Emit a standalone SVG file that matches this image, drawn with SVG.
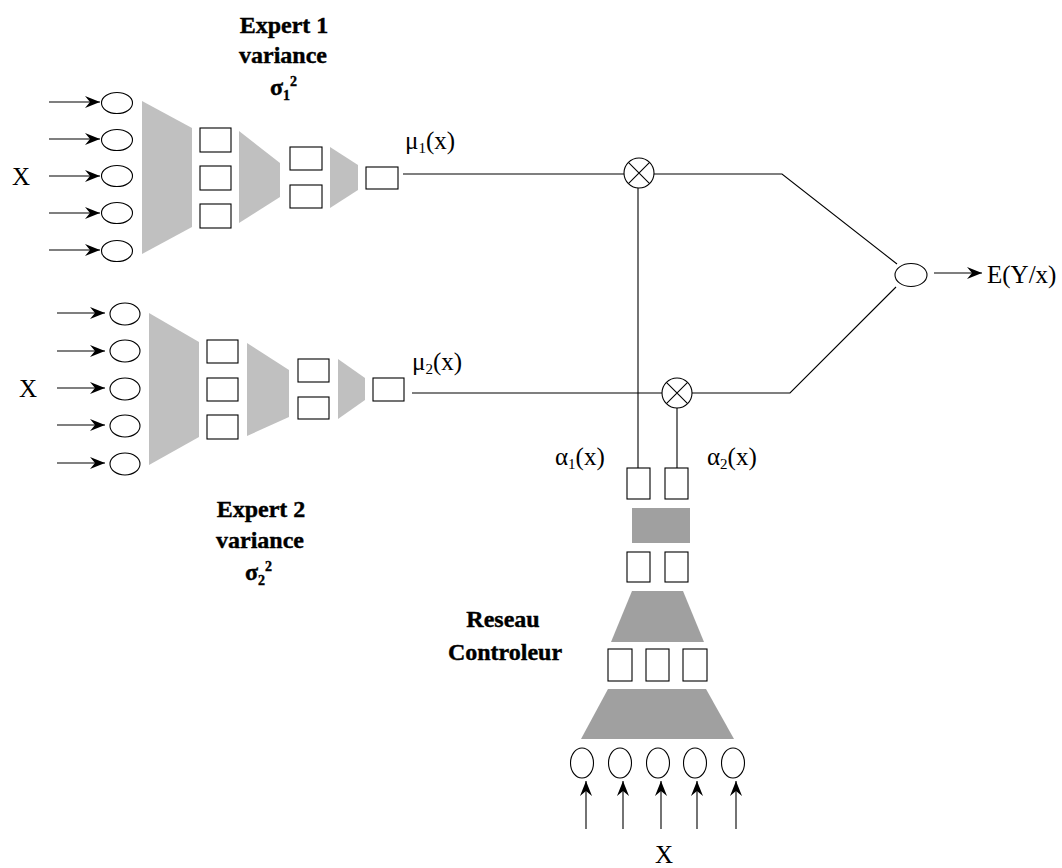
<svg xmlns="http://www.w3.org/2000/svg" width="1062" height="868" viewBox="0 0 1062 868">
<style>
.ln{stroke:#000;stroke-width:1.1;fill:none}
.ar{stroke:#000;stroke-width:1.1;fill:none;marker-end:url(#ah)}
.nd{stroke:#000;stroke-width:1.1;fill:#fff}
.g1{fill:#c0c0c0}
.g2{fill:#a0a0a0}
.t{font-family:"Liberation Serif","Times New Roman",serif;font-size:25px;fill:#000}
.b{font-family:"Liberation Serif","Times New Roman",serif;font-size:24px;font-weight:700;fill:#000;stroke:#000;stroke-width:0.4}
.s{font-size:15px}
</style>
<defs>
<marker id="ah" markerWidth="16" markerHeight="13" refX="15" refY="6" orient="auto" markerUnits="userSpaceOnUse">
<path d="M0,0 L15,6 L0,12 L5,6 Z" fill="#000"/>
</marker>
</defs>
<rect width="1062" height="868" fill="#fff"/>

<g id="expert1">
<text class="b" x="284" y="33" text-anchor="middle">Expert 1</text>
<text class="b" x="283" y="63" text-anchor="middle">variance</text>
<text class="b" x="270" y="95">σ<tspan font-size="14" dy="5">1</tspan><tspan font-size="14" dy="-14">2</tspan></text>
<text class="t" x="12" y="185">X</text>
<line class="ar" x1="49" y1="102" x2="100" y2="102"/>
<line class="ar" x1="49" y1="139" x2="100" y2="139"/>
<line class="ar" x1="49" y1="176" x2="100" y2="176"/>
<line class="ar" x1="49" y1="213" x2="100" y2="213"/>
<line class="ar" x1="49" y1="250" x2="100" y2="250"/>
<ellipse class="nd" cx="117" cy="103" rx="15.5" ry="10.5"/>
<ellipse class="nd" cx="117" cy="140" rx="15.5" ry="10.5"/>
<ellipse class="nd" cx="117" cy="176" rx="15.5" ry="10.5"/>
<ellipse class="nd" cx="117" cy="213" rx="15.5" ry="10.5"/>
<ellipse class="nd" cx="117" cy="251" rx="15.5" ry="10.5"/>
<polygon class="g1" points="142,101 192,128 192,227 142,254"/>
<rect class="nd" x="200" y="128" width="31" height="24"/>
<rect class="nd" x="200" y="166" width="31" height="24"/>
<rect class="nd" x="200" y="204" width="31" height="24"/>
<polygon class="g1" points="239,131 280,163 280,197 239,223"/>
<rect class="nd" x="290" y="147" width="32" height="23"/>
<rect class="nd" x="290" y="185" width="32" height="23"/>
<polygon class="g1" points="330,147 358,165 358,190 330,208"/>
<rect class="nd" x="366" y="167" width="32" height="22"/>
<text class="t" x="405" y="149">μ<tspan class="s" dy="4">1</tspan><tspan dy="-4">(x)</tspan></text>
</g>

<g id="expert2">
<text class="b" x="261" y="517" text-anchor="middle">Expert 2</text>
<text class="b" x="260" y="548" text-anchor="middle">variance</text>
<text class="b" x="245" y="580">σ<tspan font-size="14" dy="5">2</tspan><tspan font-size="14" dy="-14">2</tspan></text>
<text class="t" x="19" y="397">X</text>
<line class="ar" x1="57" y1="313" x2="105" y2="313"/>
<line class="ar" x1="57" y1="351" x2="105" y2="351"/>
<line class="ar" x1="57" y1="388" x2="105" y2="388"/>
<line class="ar" x1="57" y1="425" x2="105" y2="425"/>
<line class="ar" x1="57" y1="463" x2="105" y2="463"/>
<ellipse class="nd" cx="125" cy="314" rx="15" ry="11"/>
<ellipse class="nd" cx="125" cy="351" rx="15" ry="11"/>
<ellipse class="nd" cx="125" cy="389" rx="15" ry="11"/>
<ellipse class="nd" cx="125" cy="426" rx="15" ry="11"/>
<ellipse class="nd" cx="125" cy="464" rx="15" ry="11"/>
<polygon class="g1" points="149,313 199,342 199,437 149,465"/>
<rect class="nd" x="207" y="340" width="31" height="23"/>
<rect class="nd" x="207" y="378" width="31" height="23"/>
<rect class="nd" x="207" y="415" width="31" height="24"/>
<polygon class="g1" points="247,343 289,370 289,417 247,436"/>
<rect class="nd" x="298" y="359" width="31" height="23"/>
<rect class="nd" x="298" y="397" width="31" height="22"/>
<polygon class="g1" points="338,359 365,378 365,400 338,419"/>
<rect class="nd" x="373" y="378" width="31" height="23"/>
<text class="t" x="412" y="370">μ<tspan class="s" dy="4">2</tspan><tspan dy="-4">(x)</tspan></text>
</g>

<g id="controller">
<text class="b" x="503" y="627" text-anchor="middle">Reseau</text>
<text class="b" x="505" y="660" text-anchor="middle">Controleur</text>
<rect class="nd" x="627" y="468" width="23" height="31"/>
<rect class="nd" x="665" y="468" width="23" height="31"/>
<rect class="g2" x="632" y="508" width="58" height="35"/>
<rect class="nd" x="627" y="552" width="23" height="30"/>
<rect class="nd" x="665" y="552" width="23" height="30"/>
<polygon class="g2" points="632,591 683,591 704,642 611,642"/>
<rect class="nd" x="608" y="649" width="24" height="32"/>
<rect class="nd" x="646" y="649" width="23" height="32"/>
<rect class="nd" x="683" y="649" width="24" height="32"/>
<polygon class="g2" points="608,689 706,689 734,739 581,739"/>
<ellipse class="nd" cx="582" cy="763" rx="11.5" ry="15"/>
<ellipse class="nd" cx="620" cy="763" rx="11.5" ry="15"/>
<ellipse class="nd" cx="658" cy="763" rx="11.5" ry="15"/>
<ellipse class="nd" cx="695" cy="763" rx="11.5" ry="15"/>
<ellipse class="nd" cx="733" cy="763" rx="11.5" ry="15"/>
<line class="ar" x1="586" y1="829" x2="586" y2="781"/>
<line class="ar" x1="623" y1="829" x2="623" y2="781"/>
<line class="ar" x1="661" y1="829" x2="661" y2="781"/>
<line class="ar" x1="697" y1="829" x2="697" y2="781"/>
<line class="ar" x1="736" y1="829" x2="736" y2="781"/>
<text class="t" x="655" y="863">X</text>
<text class="t" x="555" y="465">α<tspan class="s" dy="4">1</tspan><tspan dy="-4">(x)</tspan></text>
<text class="t" x="707" y="465">α<tspan class="s" dy="4">2</tspan><tspan dy="-4">(x)</tspan></text>
</g>

<g id="connectors">
<polyline class="ln" points="403,174 624,174"/>
<polyline class="ln" points="654,174 782,174 897,264"/>
<polyline class="ln" points="412,393 662,393"/>
<polyline class="ln" points="692,393 790,393 896,287"/>
<line class="ln" x1="638" y1="188" x2="638" y2="468"/>
<line class="ln" x1="677" y1="408" x2="677" y2="468"/>
<line class="ar" x1="934" y1="273" x2="982" y2="273"/>
</g>

<g id="mult1">
<circle class="nd" cx="639" cy="173" r="15"/>
<path class="ln" d="M628.4,162.4 L649.6,183.6 M649.6,162.4 L628.4,183.6"/>
</g>
<g id="mult2">
<circle class="nd" cx="677" cy="393" r="15"/>
<path class="ln" d="M666.4,382.4 L687.6,403.6 M687.6,382.4 L666.4,403.6"/>
</g>
<g id="sum">
<ellipse class="nd" cx="911" cy="275" rx="16" ry="11.5"/>
</g>
<text class="t" x="987" y="283">E(Y/x)</text>
</svg>
